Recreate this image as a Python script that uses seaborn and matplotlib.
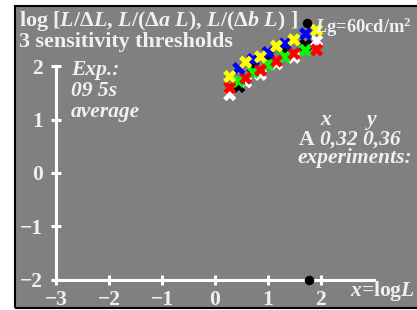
import matplotlib
matplotlib.use("Agg")
import matplotlib.pyplot as plt
import seaborn as sns
import pandas as pd
from matplotlib.patches import Rectangle

# ---- data ----
x_a = [0.28, 0.58, 0.86, 1.16, 1.49, 1.92]   # yellow / white / red
x_b = [0.45, 0.72, 1.00, 1.32, 1.71]         # blue / black / green
white_v = [1.47, 1.71, 1.85, 2.05, 2.17, 2.48]
black_v = [1.62, 1.99, 2.20, 2.32, 2.40]
green_v = [1.72, 1.89, 2.03, 2.18, 2.30]
red_v = [1.60, 1.78, 1.93, 2.10, 2.24, 2.31]
blue_v = [1.96, 2.13, 2.26, 2.42, 2.61]
yellow_v = [1.81, 2.08, 2.18, 2.38, 2.50, 2.68]
lg_x = [1.74, 1.778]
lg_y = [2.81, -2.0]
x_ticks = [-3, -2, -1, 0, 1, 2]
y_ticks = [-2, -1, 0, 1, 2]

series = [("white", x_a, white_v), ("black", x_b, black_v), ("green", x_b, green_v),
          ("red", x_a, red_v), ("blue", x_b, blue_v), ("yellow", x_a, yellow_v)]
rows = []
for name, xs, ys in series:
    for xv, yv in zip(xs, ys):
        rows.append({"x": xv, "y": yv, "s": name})
df = pd.DataFrame(rows)
palette = {"white": "#ffffff", "black": "#000000", "green": "#00ff00",
           "red": "#ff0000", "blue": "#0000ff", "yellow": "#ffff00"}

plt.rcParams["mathtext.fontset"] = "custom"
plt.rcParams["mathtext.rm"] = "Liberation Serif:bold"
plt.rcParams["mathtext.it"] = "Liberation Serif:bold:italic"
plt.rcParams["mathtext.bf"] = "Liberation Serif:bold"
plt.rcParams["font.family"] = ["Liberation Serif", "DejaVu Serif"]
plt.rcParams["font.weight"] = "bold"

W, H = 417, 310
fig = plt.figure(figsize=(W / 100, H / 100), dpi=100)
fig.patch.set_facecolor("white")
ax = fig.add_axes([14 / W, 2 / H, 405 / W, 303 / H])
ax.set_facecolor("#808080")
ax.set_xlim(-3.79, 3.85)
ax.set_ylim(-2.533, 3.152)

for sp in ["top", "right"]:
    ax.spines[sp].set_visible(False)
ax.spines["left"].set_position(("data", -3))
ax.spines["left"].set_bounds(-2, 2)
ax.spines["bottom"].set_position(("data", -2))
ax.spines["bottom"].set_bounds(-3, 3)
for sp in ["left", "bottom"]:
    ax.spines[sp].set_color("white")
    ax.spines[sp].set_linewidth(2.2)
ax.set_xticks(x_ticks)
ax.set_xticklabels([("−" + str(-t)) if t < 0 else str(t) for t in x_ticks])
ax.set_yticks(y_ticks)
ax.set_yticklabels([("−" + str(-t)) if t < 0 else str(t) for t in y_ticks])
ax.tick_params(direction="inout", length=7, width=2.2, color="white",
               labelcolor="#f0f0f0", labelsize=15.5)
ax.tick_params(axis="x", pad=4)
ax.tick_params(axis="y", pad=6)
for lab in ax.get_xticklabels() + ax.get_yticklabels():
    lab.set_fontweight("bold")

tc = "#f0f0f0"
def ftext(px, py, s, size=15, **kw):
    fig.text(px / W, 1 - py / H, s, color=tc, fontsize=size, fontweight="bold",
             va="baseline", zorder=1, **kw)

ftext(19, 26, r"log [$L$/Δ$L$, $L$/(Δ$a$ $L$), $L$/(Δ$b$ $L$) ]", 15.8)
ftext(19, 47, "3 sensitivity thresholds", 15.8)
ftext(315, 33, r"$L$g=60cd/m$^{2}$", 13.3)
ftext(71, 75, "Exp.:", 15.5, style="italic")
ftext(71, 96, "09 5s", 15.5, style="italic")
ftext(71, 117, "average", 15.5, style="italic")
ftext(320, 125, "x", 15.5, style="italic")
ftext(366, 125, "y", 15.5, style="italic")
ftext(299, 145, "A", 15.5)
ftext(320, 145, "0,32 0,36", 15.5, style="italic")
ftext(298, 163, "experiments:", 15.5, style="italic")
ftext(350, 296, r"$x$=log$L$", 15.5)

sns.scatterplot(data=df, x="x", y="y", hue="s", palette=palette, marker="X",
                s=90, linewidth=0, legend=False, ax=ax, zorder=3)
ax.scatter(lg_x, lg_y, s=34, color="black", zorder=4, clip_on=False)
ax.set_xlabel("")
ax.set_ylabel("")

fig.add_artist(Rectangle((14.5 / W, 1 - 307.5 / H), 410 / W, 302 / H,
                         transform=fig.transFigure, fill=False,
                         edgecolor="black", linewidth=1.5, zorder=10))
fig.savefig("out.png", dpi=100, facecolor="white")
